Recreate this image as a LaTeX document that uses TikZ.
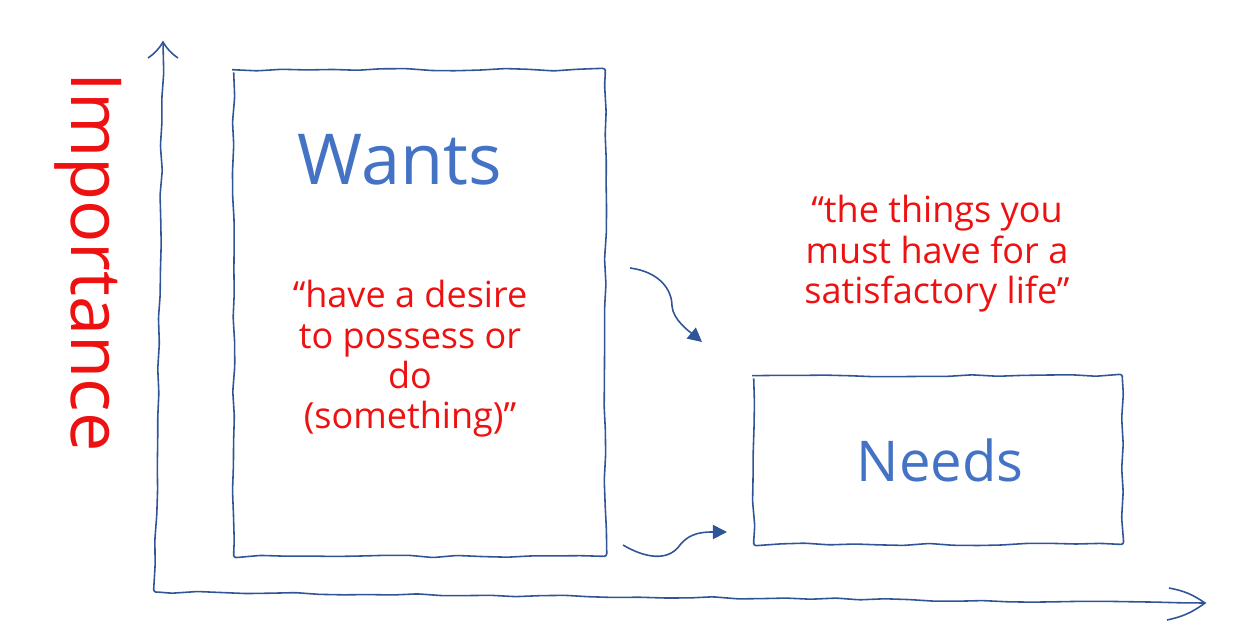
\documentclass[tikz,border=0pt]{standalone}
\usepackage{fontspec}
\setmainfont{Open Sans}
\usetikzlibrary{arrows.meta,decorations.pathmorphing}
\definecolor{inkblue}{HTML}{2F5597}
\definecolor{wordblue}{HTML}{4472C4}
\definecolor{quotered}{HTML}{EE1111}
\tikzset{
  ink/.style={draw=inkblue,line width=.9pt},
  sketch/.style={ink,decorate,decoration={random steps,segment length=14pt,amplitude=.7pt},rounded corners=1.5pt},
  box/.style={inner sep=0pt},
  title/.style={text=wordblue,font=\fontsize{40}{48}\selectfont},
  quote/.style={text=quotered,align=center,font=\fontsize{20.5}{23}\selectfont},
  tip/.style={-{Triangle[length=8pt,width=8pt]}}
}
\begin{document}
\begin{tikzpicture}[x=.02cm,y=-.02cm]
  \pgfmathsetseed{11}
  \useasboundingbox (0,0) rectangle (1244,639);
  \coordinate (o) at (155,592);
  \coordinate (ytop) at (163,42);
  \coordinate (xend) at (1205,603);
  \draw[sketch] (xend) -- (o) -- (ytop);
  \draw[ink] (ytop) ++(-15,16) to[bend right=12] (ytop) to[bend right=12] ++(15,16);
  \draw[ink] (xend) ++(-36,-15) to[bend left=12] (xend) to[bend left=12] ++(-38,17);
  \node[box,minimum width=7.42cm,minimum height=9.72cm] (wantsbox) at (419.5,313) {};
  \node[box,minimum width=7.36cm,minimum height=3.36cm] (needsbox) at (938,460) {};
  \draw[sketch] (wantsbox.north west) rectangle (wantsbox.south east);
  \draw[sketch] (needsbox.north west) rectangle (needsbox.south east);
  \node[title] (wants) at (400,160) {Wants};
  \node[quote] (wantsq) at (410,359) {“have a desire\\to possess or\\do\\(something)”};
  \node[title,font=\fontsize{32}{40}\selectfont] (needs) at (940,460) {Needs};
  \node[quote] (needsq) at (937,254) {“the things you\\must have for a\\satisfactory life”};
  \node[text=quotered,rotate=-90,font=\fontsize{40}{48}\selectfont] (imp) at (88,262) {Importance};
  \coordinate (a1) at (630,268);
  \coordinate (b1) at (702,342);
  \coordinate (a2) at (623,545);
  \coordinate (b2) at (727,532);
  \draw[ink,tip] (a1) .. controls (660,272) and (672,290) .. (672,306) .. controls (673,320) and (690,332) .. (b1);
  \draw[ink,tip] (a2) .. controls (645,558) and (668,562) .. (680,545) .. controls (690,532) and (705,532) .. (b2);
\end{tikzpicture}
\end{document}
